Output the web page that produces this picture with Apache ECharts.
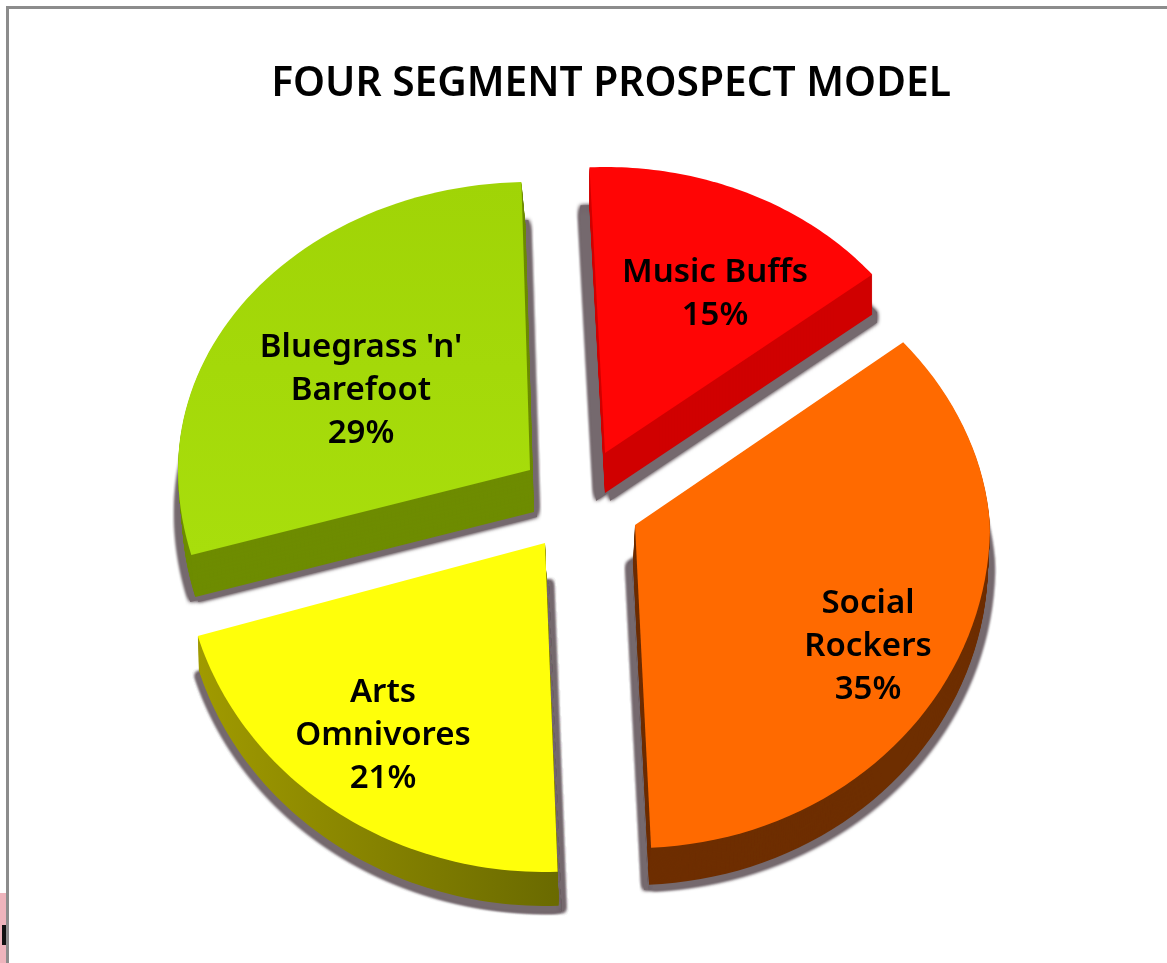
<!DOCTYPE html>
<html>
<head>
<meta charset="utf-8">
<title>Four Segment Prospect Model</title>
<script src="https://cdn.jsdelivr.net/npm/echarts@6/dist/echarts.min.js"></script>
<style>
  html, body { margin: 0; padding: 0; background: #fff; }
  #chart { width: 1167px; height: 963px; }
</style>
</head>
<body>
<div id="chart"></div>
<script>
const titleText = "FOUR SEGMENT PROSPECT MODEL";
const categories = ["Music Buffs", "Social\nRockers", "Arts\nOmnivores", "Bluegrass 'n'\nBarefoot"];
const shares = [15, 35, 21, 29];

const FONT = '"Noto Sans", sans-serif';
const START_ANGLE = -2.6;

// the picture is a squashed 3D pie, each slice gets its own centre and radii
// rot: small turn of a slice, aTilt: narrows the upper half of the ellipse
const sliceLayout = [
  { cx: 605, cy: 453, a: 342, aTilt: 0, bUp: 286, bDown: 320, rot: 0, dx: 0, dy: 40, sx: -9, sy: 8, ox: 5, lx: 715, ly: 294 },
  { cx: 635, cy: 525, a: 355, aTilt: -19, bUp: 293, bDown: 323, rot: 0, dx: -2, dy: 37, sx: -7, sy: 5, ox: 2, lx: 868, ly: 647 },
  { cx: 545, cy: 543, a: 362, aTilt: 0, bUp: 295, bDown: 329, rot: 0.6, dx: 1, dy: 34, sx: 6, sy: 5, ox: -1, lx: 383, ly: 736 },
  { cx: 530, cy: 470, a: 352, aTilt: 0, bUp: 288, bDown: 312, rot: 1.2, dx: 4, dy: 42, sx: 7, sy: 5, ox: -1, lx: 361, ly: 391 },
];
const sliceColors = [
  { top: "#ff0505", side: "#d00000" },
  { top: "#ff6a00", side: "#6e2e00" },
  { top: "#ffff0a", side: new echarts.graphic.LinearGradient(0, 0, 1, 0, [
    { offset: 0, color: "#a09a00" }, { offset: 1, color: "#6a6a00" },
  ]) },
  { top: new echarts.graphic.LinearGradient(0, 0, 0, 1, [
    { offset: 0, color: "#a0d406" }, { offset: 1, color: "#a8de0c" },
  ]), side: "#6e8c00" },
];
const SHADOW_COLOR = "#75696e";

const total = shares.reduce((s, v) => s + v, 0);

// 扇形轮廓点
const slicePoints = (layout, from, to) => {
  const pts = [[layout.cx, layout.cy]];
  const steps = 60;
  for (let i = 0; i <= steps; i++) {
    const deg = from + ((to - from) * i) / steps;
    const rad = (deg * Math.PI) / 180;
    const c = Math.cos(rad);
    const b = c > 0 ? layout.bUp : layout.bDown;
    const a = c > 0 ? layout.a + layout.aTilt * c : layout.a;
    pts.push([layout.cx + a * Math.sin(rad), layout.cy - b * c]);
  }
  return pts;
};

const shifted = (pts, x, y) => pts.map((p) => [p[0] + x, p[1] + y]);

const renderSlice = (params, api) => {
  const i = params.dataIndex;
  const layout = sliceLayout[i];
  const colors = sliceColors[i];
  let before = 0;
  for (let k = 0; k < i; k++) before += shares[k];
  const from = START_ANGLE + (before / total) * 360 + layout.rot;
  const to = from + (api.value(0) / total) * 360;
  const pts = slicePoints(layout, from, to);
  const children = [];

  // shadow sweep, starts a bit under the top face, goes out on both sides
  const shadowSteps = 10;
  [layout.sx, layout.ox].forEach((offsetX) => {
    for (let s = 0; s <= shadowSteps; s++) {
      const t = s / shadowSteps;
      children.push({
        type: "polygon",
        shape: { points: shifted(pts, offsetX, 38 + (layout.dy + layout.sy - 38) * t) },
        style: { fill: SHADOW_COLOR, shadowBlur: 4, shadowColor: SHADOW_COLOR },
      });
    }
  });
  // side wall
  for (let s = layout.dy; s > 0; s--) {
    children.push({
      type: "polygon",
      shape: { points: shifted(pts, (layout.dx * s) / layout.dy, s) },
      style: { fill: colors.side },
    });
  }
  children.push({
    type: "polygon",
    shape: { points: pts },
    style: { fill: colors.top },
  });
  children.push({
    type: "text",
    style: {
      x: layout.lx,
      y: layout.ly,
      text: categories[i] + "\n" + api.value(0) + "%",
      align: "center",
      verticalAlign: "middle",
      fill: "#000",
      font: '600 33px ' + FONT,
      lineHeight: 43,
    },
  });
  return { type: "group", children };
};

const chart = echarts.init(document.getElementById("chart"), null, { renderer: "canvas" });
chart.setOption({
  animation: false,
  backgroundColor: "#fff",
  title: {
    text: titleText,
    left: 606,
    top: 59,
    textAlign: "center",
    textStyle: { fontFamily: FONT, fontWeight: 600, fontSize: 40.7, color: "#000" },
  },
  graphic: [
    { type: "rect", shape: { x: 0, y: 893, width: 6, height: 70 }, style: { fill: "#eeb4bc" } },
    { type: "rect", shape: { x: 2, y: 925, width: 4, height: 20 }, style: { fill: "#111" } },
    { type: "rect", shape: { x: 6, y: 6, width: 1161, height: 3 }, style: { fill: "#8c8c8c" } },
    { type: "rect", shape: { x: 6, y: 6, width: 3, height: 957 }, style: { fill: "#8c8c8c" } },
  ],
  series: [
    {
      type: "custom",
      coordinateSystem: "none",
      renderItem: renderSlice,
      data: shares.map((v) => [v]),
    },
  ],
});
</script>
</body>
</html>
